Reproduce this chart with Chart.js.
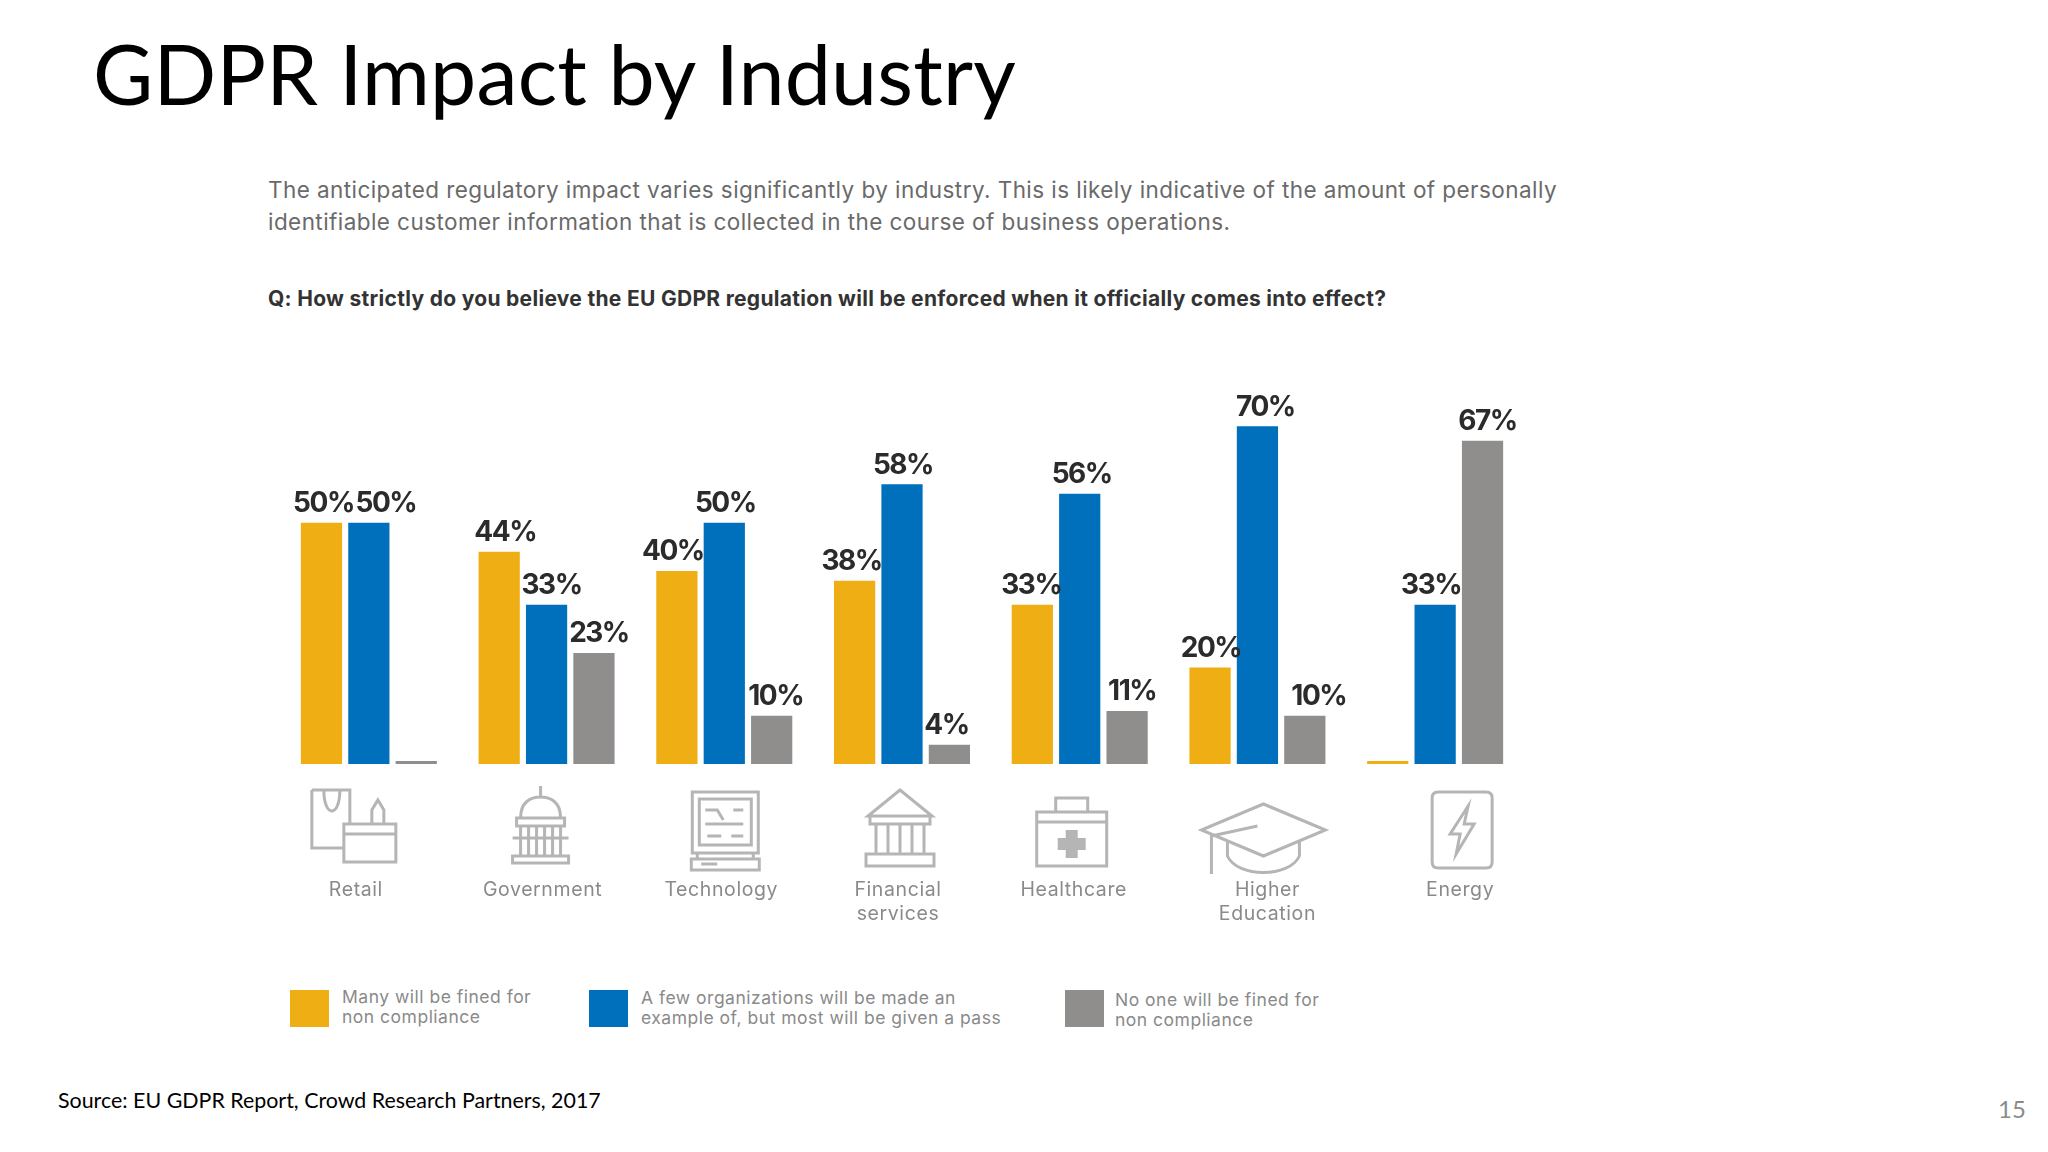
<!DOCTYPE html>
<html>
<head>
<meta charset="utf-8">
<title>GDPR Impact by Industry</title>
<script src="https://cdn.jsdelivr.net/npm/chart.js@4"></script>
<style>
  html, body { margin: 0; padding: 0; background: #fff; }
  #page { position: relative; width: 2048px; height: 1152px; overflow: hidden; }
  #page div { position: absolute; white-space: nowrap; }
  canvas { position: absolute; left: 0; top: 340px; }
  #title { left: 93px; top: 24px; font: 400 82.5px/1.2 Lato, sans-serif; color: #000; letter-spacing: .2px; }
  .intro { left: 268px; font: 400 22.5px/30px Inter, sans-serif; color: #6a6a6a; letter-spacing: .43px; }
  #question { left: 268px; top: 284px; font: 700 21px/30px Inter, sans-serif; color: #333; letter-spacing: .3px; }
  #source { left: 58px; top: 1086px; font: 400 21.4px/28px Lato, sans-serif; color: #000; }
  #pageNo { left: 1998px; top: 1093px; font: 400 24px/32px Lato, sans-serif; color: #8b8b8b; }
  .swatch { width: 39px; height: 37px; top: 990px; }
  .legendText { font: 400 17.5px/20px Inter, sans-serif; color: #8a8a8a; letter-spacing: .5px; }
</style>
</head>
<body>
<div id="page">
  <div id="title">GDPR Impact by Industry</div>
  <div class="intro" style="top:175px">The anticipated regulatory impact varies significantly by industry. This is likely indicative of the amount of personally</div>
  <div class="intro" style="top:207px">identifiable customer information that is collected in the course of business operations.</div>
  <div id="question">Q: How strictly do you believe the EU GDPR regulation will be enforced when it officially comes into effect?</div>
  <canvas id="gdprChart" width="2048" height="640"></canvas>
  <div id="source">Source: EU GDPR Report, Crowd Research Partners, 2017</div>
  <div id="pageNo">15</div>
</div>

<script>
const industries = ['Retail', 'Government', 'Technology', ['Financial', 'services'], 'Healthcare', ['Higher', 'Education'], 'Energy'];
const manyFined = [50, 44, 40, 38, 33, 20, 0];
const fewExamples = [50, 33, 50, 58, 56, 70, 33];
const noOneFined = [0, 23, 10, 4, 11, 10, 67];
const seriesNames = [
    ['Many will be fined for', 'non compliance'],
    ['A few organizations will be made an', 'example of, but most will be given a pass'],
    ['No one will be fined for', 'non compliance']
];

const seriesColors = ['#EFAE14', '#0070BC', '#908E8D'];

// the source graphic is hand placed, so labels and icons don't sit exactly on the bars
const valueLabelShift = [
    [2, 6, -4, -3, -1, 1, 0],
    [17, 5, 1, 1, 2, 8, -4],
    [0, 5, 4, -3, 5, 14, 5]
];
const nameShift = [-13, -4, -3, -4, -6, 10, 25];
const iconShift = [-15, -6, 1, -2, -8, 6, 27];

// icons in local coordinates, centred on 0,0
const iconPaths = [
    'M-42 -40 L-4 -40 L-4 -6 M-42 -40 L-42 18 L-10 18 M-30 -40 C-30 -12 -14 -12 -14 -40 M-10 -6 L42 -6 L42 32 L-10 32 Z M-10 4 L42 4 M18 -6 L18 -20 L24 -30 L30 -20 L30 -6',
    'M0 -44 L0 -32 M-20 -12 C-20 -28 -10 -33 0 -33 C10 -33 20 -28 20 -12 Z M-24 -12 L24 -12 L24 -4 L-24 -4 Z M-20 -4 L-20 26 M-12 -4 L-12 26 M-4 -4 L-4 26 M4 -4 L4 26 M12 -4 L12 26 M20 -4 L20 26 M-28 8 L28 8 M-28 26 L28 26 L28 33 L-28 33 Z',
    'M-33 -38 L33 -38 L33 23 L-33 23 Z M-26 -31 L26 -31 L26 15 L-26 15 Z M-20 -20 L-8 -20 L-2 -10 M8 -20 L18 -20 M-20 -6 L18 -6 M-18 6 L-4 6 M6 6 L18 6 M-28 23 L-28 29 L28 29 L28 23 M-34 29 L34 29 L34 40 L-34 40 Z M-24 34 L-8 34',
    'M0 -40 L-32 -14 L32 -14 Z M-30 -14 L-30 -6 L30 -6 L30 -14 M-24 -6 L-24 24 M-12 -6 L-12 24 M0 -6 L0 24 M12 -6 L12 24 M24 -6 L24 24 M-34 24 L34 24 L34 36 L-34 36 Z',
    'M-35 -18 L35 -18 L35 36 L-35 36 Z M-35 -8 L35 -8 M-16 -18 L-16 -32 L16 -32 L16 -18',
    'M0 -26 L62 0 L0 26 L-62 0 Z M-36 12 L-36 26 C-26 48 26 48 36 26 L36 12 M-52 4 L-52 34 M-52 34 L-52 44 M-6 -4 L-52 6',
    'M-24 -38 L24 -38 Q30 -38 30 -32 L30 32 Q30 38 24 38 L-24 38 Q-30 38 -30 32 L-30 -32 Q-30 -38 -24 -38 Z M6 -24 L-12 4 L-2 4 L-6 24 L12 -6 L2 -6 Z'
];
// the healthcare kit has a solid cross
const kitCross = 'M-6 0 L6 0 L6 8 L14 8 L14 20 L6 20 L6 28 L-6 28 L-6 20 L-14 20 L-14 8 L-6 8 Z';

const valueLabels = {
    id: 'valueLabels',
    afterDatasetsDraw(chart) {
        const ctx = chart.ctx;
        ctx.save();
        ctx.font = '700 28px Inter, sans-serif';
        ctx.letterSpacing = '-1.5px';
        ctx.fillStyle = '#2b2b2b';
        ctx.textAlign = 'center';
        ctx.textBaseline = 'bottom';
        chart.data.datasets.forEach((ds, d) => {
            chart.getDatasetMeta(d).data.forEach((bar, i) => {
                if (!ds.data[i]) return;    // empty bars have no label in the source
                ctx.fillText(ds.data[i] + '%', bar.x + valueLabelShift[d][i], bar.y - 5);
            });
        });
        ctx.restore();
    }
};

const industryRow = {
    id: 'industryRow',
    afterDraw(chart) {
        const ctx = chart.ctx;
        const x = chart.scales.x;
        const base = chart.chartArea.bottom;
        ctx.save();
        industries.forEach((name, i) => {
            const mid = x.getPixelForValue(i);

            ctx.save();
            ctx.translate(mid + iconShift[i], base + 66);
            ctx.strokeStyle = '#b5b5b5';
            ctx.fillStyle = '#b5b5b5';
            ctx.lineWidth = 3;
            ctx.stroke(new Path2D(iconPaths[i]));
            if (i === 4) ctx.fill(new Path2D(kitCross));
            ctx.restore();

            ctx.font = '400 19.5px Inter, sans-serif';
            ctx.letterSpacing = '.6px';
            ctx.fillStyle = '#8a8a8a';
            ctx.textAlign = 'center';
            ctx.textBaseline = 'middle';
            [].concat(name).forEach((line, l) => {
                ctx.fillText(line, mid + nameShift[i], base + 126 + l * 24.5);
            });
        });
        ctx.restore();
    }
};

new Chart(document.getElementById('gdprChart'), {
    type: 'bar',
    data: {
        labels: industries,
        datasets: [
            { label: seriesNames[0].join(' '), data: manyFined, backgroundColor: seriesColors[0] },
            { label: seriesNames[1].join(' '), data: fewExamples, backgroundColor: seriesColors[1] },
            { label: seriesNames[2].join(' '), data: noOneFined, backgroundColor: seriesColors[2] }
        ]
    },
    options: {
        responsive: false,
        animation: false,
        layout: { padding: { left: 280, right: 524, top: 38, bottom: 216 } },
        datasets: { bar: { categoryPercentage: 0.8, barPercentage: 0.87, minBarLength: 3, borderWidth: 0 } },
        plugins: { legend: { display: false }, tooltip: { enabled: false } },
        scales: {
            x: { display: false },
            y: { display: false, min: 0, max: 80 }
        }
    },
    plugins: [valueLabels, industryRow]
});

// legend, built from the same names and colours as the datasets
const page = document.getElementById('page');
const swatchLeft = [290, 589, 1065];
const textLeft = [342, 641, 1115];
const textTop = [987, 988, 990];
seriesNames.forEach((lines, s) => {
    const swatch = document.createElement('div');
    swatch.className = 'swatch';
    swatch.style.left = swatchLeft[s] + 'px';
    swatch.style.background = seriesColors[s];
    page.appendChild(swatch);

    const text = document.createElement('div');
    text.className = 'legendText';
    text.style.left = textLeft[s] + 'px';
    text.style.top = textTop[s] + 'px';
    text.innerHTML = lines.join('<br>');
    page.appendChild(text);
});
</script>
</body>
</html>
